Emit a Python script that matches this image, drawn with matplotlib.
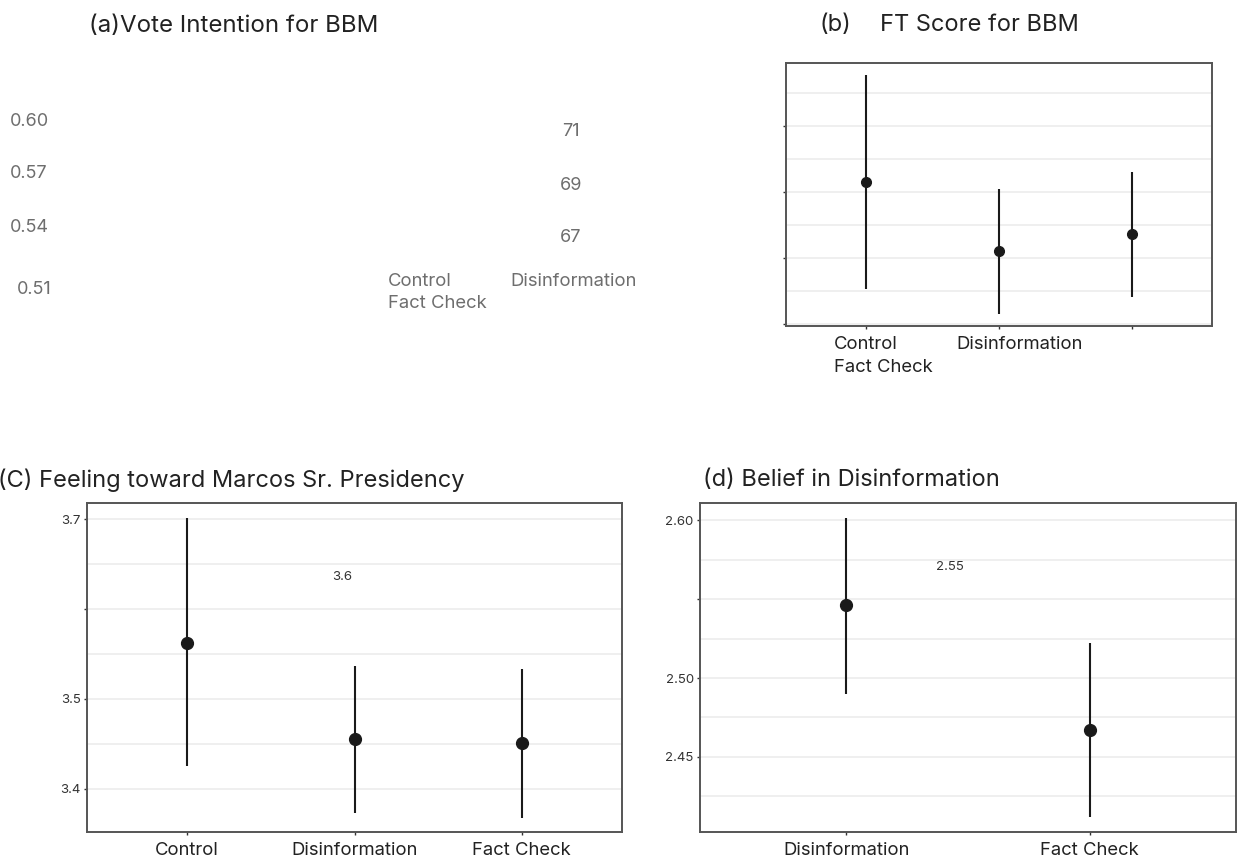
"""
Four-panel point-range figure (vote intention, FT score, feeling, belief).
"""
import matplotlib
matplotlib.use("Agg")
import matplotlib.pyplot as plt
from matplotlib.transforms import ScaledTranslation

plt.rcParams["font.family"] = ["Inter", "DejaVu Sans"]

W, H = 1241, 864

# (a) vote intention: only stray labels survive
vote_ticks = ["0.60", "0.57", "0.54", "0.51"]
ft_tick_text = ["71", "69", "67"]
vote_groups = ["Control", "Disinformation"]
vote_extra = "Fact Check"

# (b) FT score for BBM
ft_groups = ["Control", "Disinformation", "Fact Check"]
ft_mean = [69.30, 67.21, 67.73]
ft_low = [66.06, 65.30, 65.82]
ft_high = [72.55, 69.09, 69.61]
ft_ticks = [65, 67, 69, 71]
ft_minor = [66, 68, 70, 72]

# (c) feeling toward Marcos Sr. presidency
feel_groups = ["Control", "Disinformation", "Fact Check"]
feel_mean = [3.562, 3.455, 3.451]
feel_low = [3.426, 3.373, 3.368]
feel_high = [3.701, 3.537, 3.533]
feel_ticks = [3.4, 3.5, 3.6, 3.7]
feel_labels = ["3.4", "3.5", "", "3.7"]
feel_minor = [3.45, 3.55, 3.65]

# (d) belief in disinformation
bel_groups = ["Disinformation", "Fact Check"]
bel_mean = [2.546, 2.467]
bel_low = [2.490, 2.412]
bel_high = [2.601, 2.522]
bel_ticks = [2.45, 2.50, 2.55, 2.60]
bel_labels = ["2.45", "2.50", "", "2.60"]
bel_minor = [2.425, 2.475, 2.525, 2.575]

fig = plt.figure(figsize=(W/100, H/100), dpi=100)

TITLE = 17
XLAB = 13.3
YLAB = 9.5


def px(x, y):
    return x / W, 1 - y / H


def box(l, t, r, b):
    return [l / W, 1 - b / H, (r - l) / W, (b - t) / H]


def pointrange(ax, groups, mean, low, high, ticks, minor, ylim, ms):
    x = list(range(len(groups)))
    for v in list(ticks) + list(minor):
        ax.axhline(v, color="#ebebeb", lw=1.1, zorder=0)
    ax.vlines(x, low, high, color="#1a1a1a", lw=1.5, zorder=2)
    ax.plot(x, mean, "o", color="#1a1a1a", ms=ms, zorder=3)
    ax.set_xlim(-0.6, len(groups) - 0.4)
    ax.set_ylim(*ylim)
    ax.set_xticks(x)
    ax.set_yticks(ticks)
    for s in ax.spines.values():
        s.set_color("#555555")
        s.set_linewidth(1.4)
    ax.tick_params(length=2.5, width=1.0, color="#333333")
    ax.tick_params(axis="y", labelsize=YLAB, labelcolor="#333333", pad=2)
    ax.tick_params(axis="x", labelsize=XLAB, labelcolor="#222222", pad=5)


# panel (a): loose text only
grey = "#6e6e6e"
fig.text(*px(89, 26), "(a)Vote Intention for BBM", fontsize=17.3,
         color="#222222", va="center")
for lab, x, y in zip(vote_ticks, [10, 10, 10, 17], [121, 174, 228, 290]):
    fig.text(*px(x, y), lab, fontsize=13, color=grey, va="center")
for lab, y in zip(ft_tick_text, [132, 185, 238]):
    fig.text(*px(571, y), lab, fontsize=13, color=grey, va="center",
             ha="center")
fig.text(*px(388, 282), vote_groups[0], fontsize=13.3, color=grey,
         va="center")
fig.text(*px(388, 303), vote_extra, fontsize=13.3, color=grey, va="center")
fig.text(*px(510, 282), vote_groups[1], fontsize=13.3, color=grey,
         va="center")

# panel (b)
axb = fig.add_axes(box(786, 63, 1212, 326))
pointrange(axb, ft_groups, ft_mean, ft_low, ft_high, ft_ticks, ft_minor,
           (64.94, 72.91), 7)
axb.set_yticklabels([])
axb.set_xticklabels(["Control", "Disinformation", ""])
lab = axb.get_xticklabels()[1]
lab.set_transform(lab.get_transform() +
                  ScaledTranslation(0.21, 0, fig.dpi_scale_trans))
axb.annotate("Fact Check", xy=(0, 0), xycoords=("data", "axes fraction"),
             xytext=(-32, -41), textcoords="offset pixels", ha="left",
             va="center", fontsize=XLAB, color="#222222")
fig.text(*px(820, 25), "(b)", fontsize=TITLE, color="#222222", va="center")
fig.text(*px(880, 25), "FT Score for BBM", fontsize=TITLE, color="#222222",
         va="center")

# panel (c)
axc = fig.add_axes(box(87, 503, 622, 832))
pointrange(axc, feel_groups, feel_mean, feel_low, feel_high, feel_ticks,
           feel_minor, (3.3522, 3.7178), 8.5)
axc.set_yticklabels(feel_labels)
axc.set_xticklabels(feel_groups)
fig.text(*px(342, 577), "3.6", fontsize=YLAB, color="#333333", ha="center",
         va="center")
fig.text(*px(-2, 480), "(C) Feeling toward Marcos Sr. Presidency",
         fontsize=TITLE, color="#222222", va="center")

# panel (d)
axd = fig.add_axes(box(700, 503, 1236, 832))
pointrange(axd, bel_groups, bel_mean, bel_low, bel_high, bel_ticks,
           bel_minor, (2.4025, 2.6108), 8.5)
axd.set_yticklabels(bel_labels)
axd.set_xticklabels(bel_groups)
fig.text(*px(950, 567), "2.55", fontsize=YLAB, color="#333333", ha="center",
         va="center")
fig.text(*px(703, 480), "(d) Belief in Disinformation", fontsize=TITLE,
         color="#222222", va="center")

fig.savefig("out.png", dpi=100)
